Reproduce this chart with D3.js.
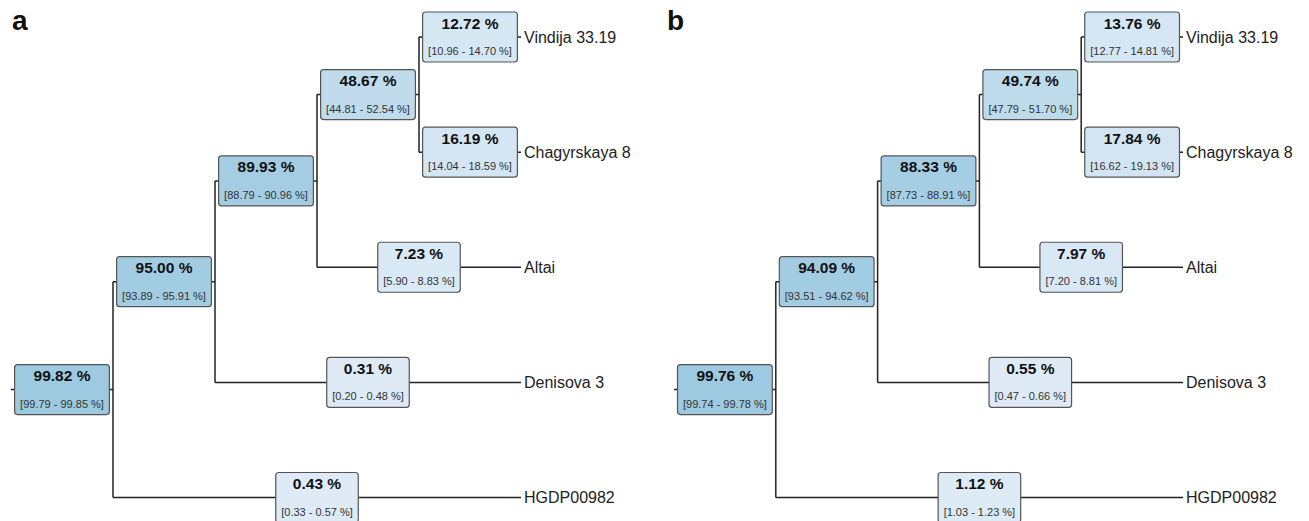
<!DOCTYPE html>
<html>
<head>
<meta charset="utf-8">
<script src="https://cdn.jsdelivr.net/npm/d3@7"></script>
<style>
  html, body { margin: 0; padding: 0; background: #fff; }
  svg { display: block; font-family: "Liberation Sans", Arial, sans-serif; }
</style>
</head>
<body>
<svg id="chart" width="1309" height="521"></svg>
<script>
// ---- data ----
const nodeIds     = ["root", "n1", "n2", "n3", "vindija", "chagyrskaya", "altai", "denisova", "hgdp"];
const nodeParents = ["", "root", "n1", "n2", "n3", "n3", "n2", "n1", "root"];
const tipLabels   = ["Vindija 33.19", "Chagyrskaya 8", "Altai", "Denisova 3", "HGDP00982"];
const tipIds      = ["vindija", "chagyrskaya", "altai", "denisova", "hgdp"];
const panelLabels = ["a", "b"];

const valuesA = [99.82, 95.00, 89.93, 48.67, 12.72, 16.19, 7.23, 0.31, 0.43];
const lowA    = [99.79, 93.89, 88.79, 44.81, 10.96, 14.04, 5.90, 0.20, 0.33];
const highA   = [99.85, 95.91, 90.96, 52.54, 14.70, 18.59, 8.83, 0.48, 0.57];

const valuesB = [99.76, 94.09, 88.33, 49.74, 13.76, 17.84, 7.97, 0.55, 1.12];
const lowB    = [99.74, 93.51, 87.73, 47.79, 12.77, 16.62, 7.20, 0.47, 1.03];
const highB   = [99.78, 94.62, 88.91, 51.70, 14.81, 19.13, 8.81, 0.66, 1.23];

// ---- drawing ----
const svg = d3.select("#chart");
const fmt = d3.format(".2f");
const fill = d3.scaleLinear().domain([0, 100]).range(["#deebf7", "#9ecae1"]);

const panels = [
  { label: panelLabels[0], values: valuesA, low: lowA, high: highA, xRange: [11, 521], labelX: 12 },
  { label: panelLabels[1], values: valuesB, low: lowB, high: highB, xRange: [674, 1183], labelX: 667 }
];

function drawPanel(p) {
  const rows = nodeIds.map((id, i) => ({
    id, parent: nodeParents[i], value: p.values[i], low: p.low[i], high: p.high[i]
  }));
  const root = d3.stratify().id(d => d.id).parentId(d => d.parent || null)(rows);
  const maxDepth = d3.max(root.leaves(), d => d.depth);

  const x = d3.scaleLinear().domain([-1, maxDepth]).range(p.xRange);
  const y = d3.scalePoint().domain(tipIds).range([37, 497.5]);

  root.eachAfter(n => {
    n.px = n.children ? n.depth : maxDepth;
    n.py = n.children ? d3.mean(n.children, c => c.py) : y(n.id);
  });

  const g = svg.append("g");

  g.append("text")
    .attr("x", p.labelX).attr("y", 30)
    .attr("font-size", 28).attr("font-weight", "bold").attr("fill", "#111")
    .text(p.label);

  const lines = g.append("g").attr("fill", "none").attr("stroke", "#222").attr("stroke-width", 1.5);

  root.each(n => {
    const x1 = x(n.px);
    const x0 = n.parent ? x(n.parent.px) : x(-1);
    lines.append("line").attr("x1", x0).attr("x2", x1).attr("y1", n.py).attr("y2", n.py);
    if (n.children) {
      const ys = n.children.map(c => c.py);
      lines.append("line").attr("x1", x1).attr("x2", x1)
        .attr("y1", d3.min(ys)).attr("y2", d3.max(ys));
    }
  });

  root.leaves().forEach(n => {
    g.append("text")
      .attr("x", x(n.px) + 3).attr("y", n.py)
      .attr("dy", "0.35em")
      .attr("font-size", 16).attr("fill", "#222")
      .text(tipLabels[tipIds.indexOf(n.id)]);
  });

  root.each(n => {
    const x1 = x(n.px);
    const x0 = n.parent ? x(n.parent.px) : x(-1);
    const cx = (x0 + x1) / 2;
    const bg = g.append("g");
    const rect = bg.append("rect");
    const t1 = bg.append("text")
      .attr("x", cx).attr("y", n.py - 8.5)
      .attr("text-anchor", "middle")
      .attr("font-size", 15.5).attr("font-weight", "bold").attr("fill", "#111")
      .text(fmt(n.data.value) + " %");
    const t2 = bg.append("text")
      .attr("x", cx).attr("y", n.py + 18)
      .attr("text-anchor", "middle")
      .attr("font-size", 11).attr("fill", "#333")
      .text("[" + fmt(n.data.low) + " - " + fmt(n.data.high) + " %]");
    const w = Math.max(t1.node().getComputedTextLength(), t2.node().getComputedTextLength()) + 11;
    rect.attr("x", cx - w / 2).attr("y", n.py - 25)
      .attr("width", w).attr("height", 50)
      .attr("rx", 3).attr("ry", 3)
      .attr("fill", fill(n.data.value))
      .attr("stroke", "#555").attr("stroke-width", 1.2);
  });
}

panels.forEach(drawPanel);
</script>
</body>
</html>
